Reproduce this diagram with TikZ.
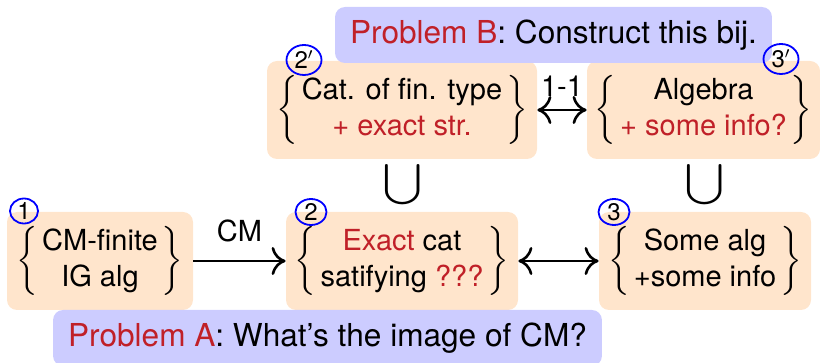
\documentclass[tikz,border=0pt]{standalone}
\usepackage{exscale}
\usepackage{fontspec}
\setmainfont{TeX Gyre Heros}
\usetikzlibrary{arrows.meta,shapes.geometric}
\definecolor{boxfill}{RGB}{255,229,204}
\definecolor{probfill}{RGB}{204,204,255}
\definecolor{alertred}{RGB}{192,32,40}
\newcommand{\al}[1]{\textcolor{alertred}{#1}}
\newcommand{\brc}[2]{$\left\{\begin{tabular}{@{\hspace{2pt}}c@{\hspace{2pt}}}#1\\#2\end{tabular}\right\}$}
\newcommand{\numtxt}[1]{\smash{\raisebox{-4.3pt}{#1}}}
\begin{document}
\begin{tikzpicture}[x=0.5pt,y=-0.5pt,font=\fontsize{14.5}{18}\selectfont,
  catbox/.style={fill=boxfill,rounded corners=5pt,minimum height=49pt,inner sep=0pt},
  probbox/.style={fill=probfill,rounded corners=5pt,minimum height=28pt,inner xsep=7.5pt,inner ysep=0pt,font=\fontsize{15.8}{19}\selectfont},
  numc/.style={draw=blue,line width=0.9pt,ellipse,inner sep=0pt,font=\fontsize{12}{14}\selectfont},
  arr/.style={line width=1.3pt,-{Computer Modern Rightarrow[length=7pt,width=14pt]}},
  darr/.style={line width=1.3pt,{Computer Modern Rightarrow[length=7pt,width=14pt]}-{Computer Modern Rightarrow[length=7pt,width=14pt]}}]
\useasboundingbox (0,0) rectangle (820,363);
% category / algebra boxes
\node[catbox,minimum width=93pt] (b1) at (100,261) {\brc{CM-finite}{IG alg}};
\node[catbox,minimum width=116pt] (b2) at (402,261) {\brc{\al{Exact} cat}{satifying \al{???}}};
\node[catbox,minimum width=106pt] (b3) at (705,261) {\brc{Some alg}{+some info}};
\node[catbox,minimum width=135pt] (b2p) at (402,110) {\brc{Cat. of fin. type}{\al{+ exact str.}}};
\node[catbox,minimum width=116.5pt] (b3p) at (703.5,110) {\brc{Algebra}{\al{+ some info?}}};
% problems
\node[probbox] (pb) at (553.5,35) {\al{Problem B}: Construct this bij.};
\node[probbox] (pa) at (327.5,338) {\al{Problem A}: What's the image of CM?};
% inclusions
\node (u1) at (402.5,185) {\scalebox{1.2}[1]{$\displaystyle\bigcup$}};
\node (u2) at (705,185) {\scalebox{1.2}[1]{$\displaystyle\bigcup$}};
% arrows
\draw[arr] (b1) -- node[above=5.5pt] (cm) {CM} (b2);
\draw[darr] (b2) -- (b3);
\draw[darr] (b2p) -- node[above=3pt] (oo) {1-1} (b3p);
% numbers
\node[numc,minimum width=14pt,minimum height=12.5pt] (n1) at (24,211) {\numtxt{1}};
\node[numc,minimum width=15.5pt,minimum height=13pt] (n2) at (311,212) {\numtxt{2}};
\node[numc,minimum width=15.5pt,minimum height=13pt] (n3) at (614,212) {\numtxt{3}};
\node[numc,minimum width=17.5pt,minimum height=15pt] (n2p) at (304,60) {\numtxt{2$'$}};
\node[numc,minimum width=17.5pt,minimum height=15pt] (n3p) at (781,59) {\numtxt{3$'$}};
\end{tikzpicture}
\end{document}
